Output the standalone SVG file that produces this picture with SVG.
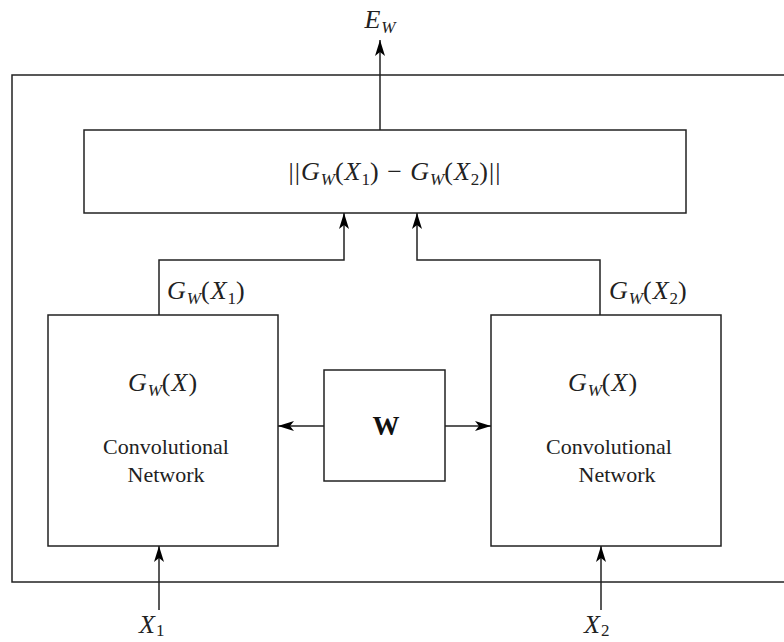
<svg xmlns="http://www.w3.org/2000/svg" width="784" height="642" viewBox="0 0 784 642">
<defs>
<marker id="ah" viewBox="0 0 16 10" refX="16" refY="5" markerWidth="16" markerHeight="10" markerUnits="userSpaceOnUse" orient="auto">
<path d="M0,0 L16,5 L0,10 L4,5 Z" fill="#000"/>
</marker>
</defs>
<style>
text{font-family:'Liberation Serif','DejaVu Serif','Times New Roman',serif;fill:#222}
.box{fill:#fff;stroke:#222;stroke-width:1.5}
.ln{fill:none;stroke:#222;stroke-width:1.5}
.m{font-style:italic;font-size:26px;letter-spacing:1px}
.r{font-style:normal}
.s{font-size:17px;letter-spacing:0}
.t{font-size:22px;text-anchor:middle}
</style>
<rect x="12" y="75" width="790" height="507" style="fill:none;stroke:#222;stroke-width:1.5"/>
<g id="dist"><rect x="84" y="130" width="602" height="83" class="box"/>
<text class="m" x="395" y="180" text-anchor="middle"><tspan class="r">||</tspan>G<tspan class="s" dy="5">W</tspan><tspan class="r" dy="-5">(</tspan>X<tspan class="r s" dy="5">1</tspan><tspan class="r" dy="-5">) − </tspan>G<tspan class="s" dy="5">W</tspan><tspan class="r" dy="-5">(</tspan>X<tspan class="r s" dy="5">2</tspan><tspan class="r" dy="-5">)||</tspan></text></g>
<g id="net1"><rect x="48" y="315" width="230" height="231" class="box"/>
<text class="m" x="163" y="391" text-anchor="middle">G<tspan class="s" dy="5">W</tspan><tspan class="r" dy="-5">(</tspan>X<tspan class="r">)</tspan></text>
<text class="t" x="166" y="454">Convolutional</text>
<text class="t" x="166" y="482">Network</text></g>
<g id="net2"><rect x="491" y="315" width="230" height="231" class="box"/>
<text class="m" x="603" y="391" text-anchor="middle">G<tspan class="s" dy="5">W</tspan><tspan class="r" dy="-5">(</tspan>X<tspan class="r">)</tspan></text>
<text class="t" x="609" y="454">Convolutional</text>
<text class="t" x="617" y="482">Network</text></g>
<g id="w"><rect x="324" y="370" width="121" height="111" class="box"/>
<text x="386" y="435" text-anchor="middle" style="font-weight:bold;font-size:27px;fill:#111">W</text></g>
<g id="labels">
<text class="m" x="380" y="28" text-anchor="middle">E<tspan class="s" dy="5">W</tspan></text>
<text class="m" x="167" y="299">G<tspan class="s" dy="5">W</tspan><tspan class="r" dy="-5">(</tspan>X<tspan class="r s" dy="5">1</tspan><tspan class="r" dy="-5">)</tspan></text>
<text class="m" x="609" y="299">G<tspan class="s" dy="5">W</tspan><tspan class="r" dy="-5">(</tspan>X<tspan class="r s" dy="5">2</tspan><tspan class="r" dy="-5">)</tspan></text>
<text class="m" x="139" y="633">X<tspan class="r s" dy="3">1</tspan></text>
<text class="m" x="584" y="633">X<tspan class="r s" dy="3">2</tspan></text>
</g>
<g id="connectors">
<path class="ln" d="M380,130 V40" marker-end="url(#ah)"/>
<path class="ln" d="M159,315 V260 H344 V213" marker-end="url(#ah)"/>
<path class="ln" d="M600,315 V260 H417 V213" marker-end="url(#ah)"/>
<path class="ln" d="M324,426 H278" marker-end="url(#ah)"/>
<path class="ln" d="M445,426 H491" marker-end="url(#ah)"/>
<path class="ln" d="M159,610 V546" marker-end="url(#ah)"/>
<path class="ln" d="M601,610 V546" marker-end="url(#ah)"/>
</g>
</svg>
